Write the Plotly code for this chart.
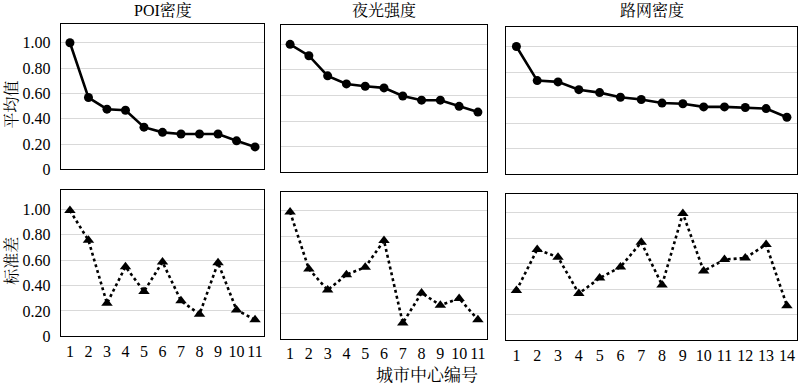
import plotly.graph_objects as go

# ---- data ----
titles = ["POI密度", "夜光强度", "路网密度"]
cities_11 = list(range(1, 12))
cities_14 = list(range(1, 15))

poi_mean = [1.00, 0.567, 0.475, 0.467, 0.333, 0.292, 0.279, 0.279, 0.279, 0.225, 0.177]
poi_std = [0.99, 0.756, 0.26, 0.548, 0.354, 0.585, 0.28, 0.174, 0.579, 0.208, 0.131]

light_mean = [1.00, 0.911, 0.754, 0.691, 0.673, 0.66, 0.597, 0.564, 0.564, 0.516, 0.471]
light_std = [0.99, 0.544, 0.38, 0.50, 0.559, 0.767, 0.123, 0.357, 0.262, 0.315, 0.149]

road_mean = [1.00, 0.733, 0.723, 0.662, 0.639, 0.603, 0.585, 0.557, 0.552, 0.527, 0.527, 0.522, 0.514, 0.446]
road_std = [0.39, 0.713, 0.652, 0.367, 0.488, 0.575, 0.769, 0.434, 0.995, 0.544, 0.634, 0.646, 0.751, 0.272]

y_tickvals = [0, 0.2, 0.4, 0.6, 0.8, 1.0]
y_ticktext = ["0", "0.20", "0.40", "0.60", "0.80", "1.00"]

W, H = 800, 392
FONT = "Liberation Serif, Times New Roman, Noto Serif CJK SC, Noto Sans CJK SC, serif"

# panel frames in pixels: (x0, x1, ytop, ybottom)
frames = [
    (60.7, 264.3, 24.3, 173.3),
    (280.7, 487.3, 25.7, 176.5),
    (506.0, 797.3, 28.0, 178.3),
    (60.7, 264.3, 194.7, 344.3),
    (280.7, 487.3, 196.0, 346.7),
    (506.0, 797.3, 198.3, 348.3),
]

series = [
    (cities_11, poi_mean, "mean"),
    (cities_11, light_mean, "mean"),
    (cities_14, road_mean, "mean"),
    (cities_11, poi_std, "std"),
    (cities_11, light_std, "std"),
    (cities_14, road_std, "std"),
]

fig = go.Figure()
layout = {}
for i, ((x0, x1, yt, yb), (xs, ys, kind)) in enumerate(zip(frames, series)):
    n = i + 1
    xa = "x" if n == 1 else f"x{n}"
    ya = "y" if n == 1 else f"y{n}"
    if kind == "mean":
        fig.add_trace(go.Scatter(
            x=xs, y=ys, xaxis=xa, yaxis=ya, mode="lines+markers",
            line=dict(color="black", width=2.6),
            marker=dict(symbol="circle", size=9, color="black"),
            showlegend=False, cliponaxis=False))
    else:
        fig.add_trace(go.Scatter(
            x=xs, y=ys, xaxis=xa, yaxis=ya, mode="lines+markers",
            line=dict(color="black", width=2.6, dash="dot"),
            marker=dict(symbol="triangle-up", size=10, color="black"),
            showlegend=False, cliponaxis=False))
    col = i % 3
    row = i // 3
    layout["xaxis" if n == 1 else f"xaxis{n}"] = dict(
        domain=[x0 / W, x1 / W], anchor=ya,
        range=[0.5, len(xs) + 0.5],
        tickvals=xs, ticktext=[str(v) for v in xs],
        showticklabels=(row == 1), ticks="",
        tickfont=dict(family=FONT, size=16, color="black"),
        showgrid=False, zeroline=False,
        showline=True, mirror=True, linecolor="black", linewidth=1.2,
        fixedrange=True)
    layout["yaxis" if n == 1 else f"yaxis{n}"] = dict(
        domain=[1 - yb / H, 1 - yt / H], anchor=xa,
        range=[0, 1.15],
        tickvals=y_tickvals, ticktext=y_ticktext,
        showticklabels=(col == 0), ticks="",
        ticklabelstandoff=6,
        tickfont=dict(family=FONT, size=16, color="black"),
        showgrid=True, gridcolor="#d9d9d9", gridwidth=1.2,
        zeroline=False,
        showline=True, mirror=True, linecolor="black", linewidth=1.2,
        fixedrange=True)

annotations = []
title_x = [(frames[0][0] + frames[0][1]) / 2, (frames[1][0] + frames[1][1]) / 2,
           (frames[2][0] + frames[2][1]) / 2]
for t, cx in zip(titles, title_x):
    annotations.append(dict(text=t, x=cx / W, y=1 - 11 / H, xref="paper", yref="paper",
                            showarrow=False, xanchor="center", yanchor="middle",
                            font=dict(family=FONT, size=16, color="black")))
annotations.append(dict(text="平均值", x=12 / W, y=1 - 107 / H, xref="paper", yref="paper",
                        showarrow=False, textangle=-90, xanchor="center", yanchor="middle",
                        font=dict(family=FONT, size=16, color="black")))
annotations.append(dict(text="标准差", x=12 / W, y=1 - 267 / H, xref="paper", yref="paper",
                        showarrow=False, textangle=-90, xanchor="center", yanchor="middle",
                        font=dict(family=FONT, size=16, color="black")))
annotations.append(dict(text="城市中心编号", x=427 / W, y=1 - 384 / H, xref="paper", yref="paper",
                        showarrow=False, xanchor="center", yanchor="middle",
                        font=dict(family=FONT, size=17, color="black")))

fig.update_layout(
    width=W, height=H,
    margin=dict(l=0, r=0, t=0, b=0),
    paper_bgcolor="white", plot_bgcolor="white",
    annotations=annotations,
    **layout)

fig.write_html(
    "out.html",
    config={"displayModeBar": False},
    post_script="document.body.style.margin='0';document.body.style.padding='0';"
                "document.body.style.overflow='hidden';",
)
